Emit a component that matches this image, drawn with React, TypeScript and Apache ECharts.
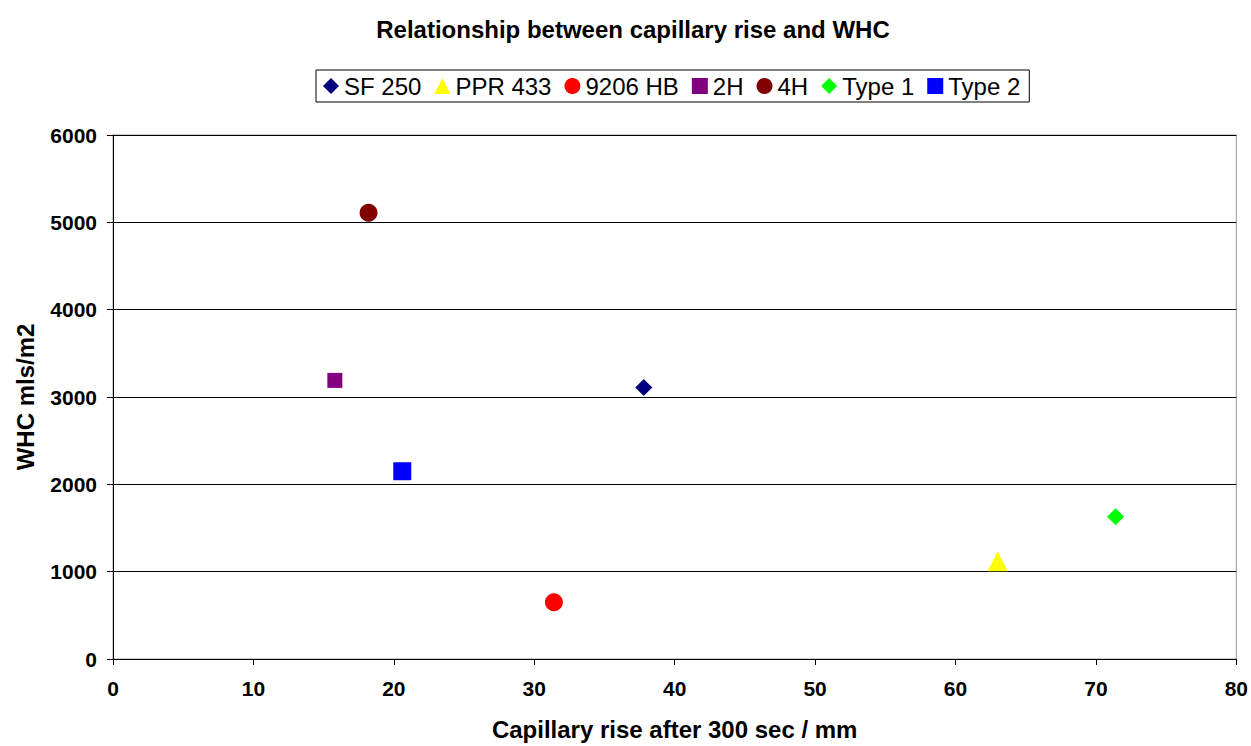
import React, { useEffect, useRef } from "react";
import * as echarts from "echarts";

const seriesNames = ["SF 250", "PPR 433", "9206 HB", "2H", "4H", "Type 1", "Type 2"];
const xValues = [37.8, 63.0, 31.4, 15.8, 18.2, 71.4, 20.6];
const yValues = [3110, 1120, 650, 3190, 5110, 1630, 2150];
const colors = ["#000080", "#FFFF00", "#FF0000", "#800080", "#800000", "#00FF00", "#0000FF"];
const symbols = ["diamond", "triangle", "circle", "rect", "circle", "diamond", "rect"];
const symbolSizes = [17, 20, 18, 15, 18, 17, 18];

const FONT = "'Liberation Sans', Arial, sans-serif";

export default function App() {
  const ref = useRef<HTMLDivElement>(null);
  useEffect(() => {
    if (!ref.current) return;
    const chart = echarts.init(ref.current, null, { renderer: "svg" });
    chart.setOption({
      animation: false,
      textStyle: { fontFamily: FONT },
      title: {
        text: "Relationship between capillary rise and WHC",
        left: 628,
        textAlign: "center",
        top: 12,
        textStyle: { fontSize: 24, fontWeight: "bold", color: "#000", fontFamily: FONT },
      },
      legend: {
        data: seriesNames,
        left: 316,
        top: 70,
        padding: [4, 9, 4, 7],
        borderColor: "#000",
        borderWidth: 1,
        itemWidth: 16,
        itemHeight: 16,
        itemGap: 13,
        textStyle: { fontSize: 24, color: "#000", fontFamily: FONT },
      },
      grid: {
        left: 113,
        right: 14,
        top: 135,
        bottom: 83,
        show: true,
        borderColor: "#999",
        borderWidth: 1,
      },
      xAxis: {
        type: "value",
        min: 0,
        max: 80,
        interval: 10,
        name: "Capillary rise after 300 sec / mm",
        nameLocation: "middle",
        nameGap: 58,
        nameTextStyle: { fontSize: 24, fontWeight: "bold", color: "#000", fontFamily: FONT },
        axisLine: { show: true, lineStyle: { color: "#000", width: 1 } },
        axisTick: { show: true, length: 6, lineStyle: { color: "#000" } },
        axisLabel: { fontSize: 21, fontWeight: "bold", color: "#000", margin: 19, fontFamily: FONT },
        splitLine: { show: false },
      },
      yAxis: {
        type: "value",
        min: 0,
        max: 6000,
        interval: 1000,
        name: "WHC mls/m2",
        nameLocation: "middle",
        nameGap: 76,
        nameRotate: 90,
        nameTextStyle: { fontSize: 24, fontWeight: "bold", color: "#000", fontFamily: FONT },
        axisLine: { show: true, lineStyle: { color: "#000", width: 1 } },
        axisTick: { show: true, length: 6, lineStyle: { color: "#000" } },
        axisLabel: {
          fontSize: 21,
          fontWeight: "bold",
          color: "#000",
          margin: 16,
          fontFamily: FONT,
          formatter: (v: number) => String(v),
        },
        splitLine: { show: true, lineStyle: { color: "#000", width: 1 } },
      },
      series: seriesNames.map((name, i) => ({
        name,
        type: "scatter",
        symbol: symbols[i],
        symbolSize: symbolSizes[i],
        itemStyle: { color: colors[i], opacity: 1 },
        data: [[xValues[i], yValues[i]]],
      })),
    });
    return () => chart.dispose();
  }, []);
  return <div ref={ref} style={{ width: 1251, height: 746, position: "absolute", left: 0, top: 0, background: "#fff" }} />;
}
